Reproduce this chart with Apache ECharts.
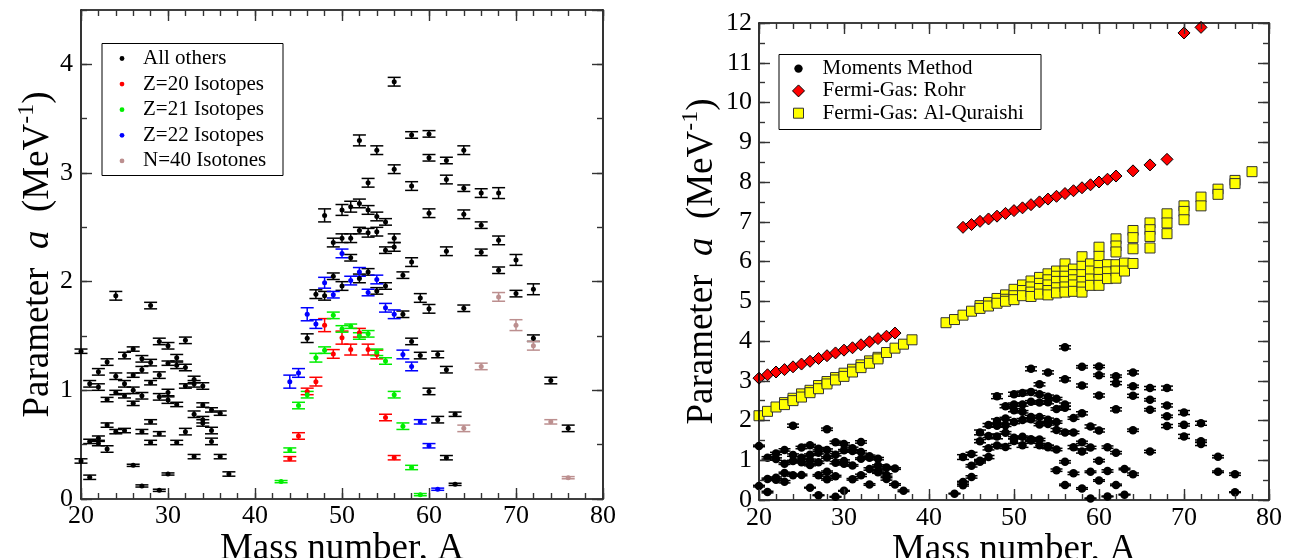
<!DOCTYPE html>
<html>
<head>
<meta charset="utf-8">
<script src="https://cdn.jsdelivr.net/npm/echarts@6/dist/echarts.min.js"></script>
<style>
  html, body { margin: 0; padding: 0; background: #fff; }
  #chart { width: 1291px; height: 558px; }
</style>
</head>
<body>
<div id="chart"></div>
<script>
// ---- level-density parameter a (MeV^-1) versus mass number A ----
// Each point: [A, a, error]

const allOthers = [
  [20,1.36,0.02],[20,0.35,0.02],
  [21,1.06,0.03],[21,0.53,0.02],[21,0.20,0.02],
  [22,1.17,0.03],[22,1.03,0.03],[22,0.56,0.02],[22,0.51,0.02],
  [23,1.26,0.03],[23,0.915,0.02],[23,0.68,0.02],[23,0.46,0.03],
  [24,1.87,0.04],[24,1.13,0.03],[24,0.98,0.02],[24,0.62,0.02],
  [25,1.32,0.03],[25,1.06,0.03],[25,0.95,0.02],[25,0.63,0.02],
  [26,1.38,0.02],[26,1.14,0.02],[26,1.00,0.03],[26,0.88,0.02],[26,0.31,0.01],
  [27,1.29,0.03],[27,1.19,0.03],[27,0.95,0.03],[27,0.62,0.02],[27,0.12,0.01],
  [28,1.78,0.03],[28,1.255,0.03],[28,1.07,0.02],[28,0.71,0.02],[28,0.52,0.02],
  [29,1.45,0.03],[29,1.14,0.03],[29,0.94,0.03],[29,0.60,0.02],[29,0.08,0.01],
  [30,1.41,0.03],[30,1.25,0.02],[30,0.98,0.03],[30,0.91,0.03],[30,0.23,0.01],
  [31,1.30,0.03],[31,1.23,0.03],[31,0.87,0.02],[31,0.52,0.02],
  [32,1.46,0.03],[32,1.21,0.03],[32,1.04,0.02],[32,0.62,0.03],
  [33,1.10,0.03],[33,1.06,0.03],[33,0.78,0.03],[33,0.39,0.02],
  [34,1.04,0.03],[34,0.865,0.02],[34,0.73,0.03],[34,0.70,0.03],
  [35,0.82,0.02],[35,0.63,0.03],[35,0.53,0.03],
  [36,0.79,0.02],[36,0.39,0.02],
  [37,0.23,0.02],
  [46,1.48,0.04],
  [47,1.885,0.04],
  [48,2.61,0.06],[48,1.87,0.04],
  [49,2.36,0.04],[49,2.05,0.03],
  [50,2.66,0.05],[50,2.40,0.04],[50,1.96,0.04],
  [51,2.69,0.05],[51,2.40,0.04],[51,2.22,0.03],
  [52,3.30,0.05],[52,2.72,0.04],[52,2.47,0.03],[52,2.03,0.04],
  [53,2.91,0.04],[53,2.66,0.04],[53,2.45,0.04],[53,2.09,0.03],
  [54,3.21,0.04],[54,2.60,0.04],[54,2.46,0.04],[54,1.915,0.03],
  [55,2.55,0.03],[55,2.29,0.03],[55,1.96,0.03],
  [56,3.84,0.04],[56,3.035,0.04],[56,2.40,0.04],[56,2.32,0.04],
  [57,2.06,0.03],[57,1.70,0.03],
  [58,3.35,0.03],[58,2.88,0.04],[58,2.18,0.04],[58,1.45,0.03],
  [59,1.85,0.04],[59,1.32,0.03],
  [60,3.36,0.03],[60,3.14,0.03],[60,2.63,0.04],[60,1.75,0.04],[60,0.99,0.03],
  [61,1.33,0.03],[61,0.73,0.03],
  [62,3.115,0.03],[62,2.94,0.04],[62,2.28,0.04],[62,1.19,0.03],[62,0.38,0.02],
  [63,0.78,0.02],[63,0.135,0.01],
  [64,3.21,0.04],[64,2.86,0.03],[64,2.62,0.04],[64,1.755,0.03],
  [66,2.815,0.04],[66,2.52,0.03],[66,2.27,0.03],
  [68,2.815,0.05],[68,2.38,0.04],[68,2.105,0.03],
  [70,2.20,0.05],[70,1.89,0.03],
  [72,1.93,0.05],[72,1.48,0.03],
  [74,1.09,0.03],
  [76,0.65,0.03]
];

const z20Isotopes = [
  [44,0.37,0.02],[45,0.58,0.03],[46,0.99,0.03],[47,1.08,0.04],[48,1.60,0.06],
  [49,1.335,0.04],[50,1.485,0.06],[51,1.375,0.05],[52,1.53,0.04],[53,1.375,0.05],
  [54,1.33,0.04],[55,0.75,0.03],[56,0.38,0.02]
];

const z21Isotopes = [
  [43,0.16,0.01],[44,0.45,0.02],[45,0.86,0.03],[46,0.96,0.03],[47,1.30,0.04],
  [48,1.37,0.03],[49,1.69,0.03],[50,1.565,0.03],[51,1.59,0.02],[52,1.50,0.03],
  [53,1.52,0.03],[54,1.35,0.03],[55,1.27,0.03],[56,0.96,0.03],[57,0.67,0.03],
  [58,0.29,0.02],[59,0.04,0.01]
];

const z22Isotopes = [
  [44,1.08,0.06],[45,1.16,0.04],[46,1.70,0.06],[47,1.61,0.04],[48,1.99,0.05],
  [49,1.88,0.03],[50,2.26,0.04],[51,2.01,0.04],[52,2.09,0.04],[53,1.90,0.03],
  [54,2.02,0.04],[55,1.76,0.04],[56,1.70,0.04],[57,1.33,0.04],[58,1.22,0.04],
  [59,0.71,0.02],[60,0.49,0.02],[61,0.09,0.01]
];

const n40Isotones = [
  [64,0.65,0.03],[66,1.22,0.03],[68,1.86,0.04],[70,1.60,0.05],
  [72,1.41,0.04],[74,0.71,0.02],[76,0.196,0.01]
];

// Fermi-gas estimates: [A, a]
const fermiRohr = [
  [20,3.065],[21,3.15],[22,3.22],[23,3.28],[24,3.35],[25,3.42],[26,3.49],[27,3.56],
  [28,3.63],[29,3.70],[30,3.77],[31,3.83],[32,3.905],[33,3.98],[34,4.06],[35,4.12],[36,4.20],
  [44,6.86],[45,6.93],[46,7.01],[47,7.07],[48,7.14],[49,7.21],[50,7.28],[51,7.35],
  [52,7.43],[53,7.50],[54,7.57],[55,7.64],[56,7.71],[57,7.78],[58,7.855],[59,7.93],
  [60,8.00],[61,8.07],[62,8.15],[64,8.28],[66,8.43],[68,8.57],[70,11.75],[72,11.89]
];

const fermiAlQuraishi = [
  [20,2.12],[21,2.23],[22,2.34],
  [23,2.45],[23,2.40],[24,2.56],[24,2.50],[25,2.67],[25,2.59],[26,2.76],[26,2.70],
  [27,2.88],[27,2.80],[28,2.98],[28,2.92],[29,3.08],[29,3.02],[30,3.19],[30,3.11],
  [31,3.29],[31,3.22],[32,3.40],[32,3.33],[33,3.50],[33,3.44],[34,3.59],[34,3.55],
  [35,3.71],[36,3.82],[37,3.92],[38,4.03],
  [42,4.46],[43,4.54],[44,4.65],[45,4.75],
  [46,4.89],[46,4.82],[47,4.97],[47,4.88],[48,5.07],[48,4.95],
  [49,5.16],[49,5.05],[49,5.00],
  [50,5.30],[50,5.14],[50,5.04],
  [51,5.41],[51,5.27],[51,5.14],
  [52,5.51],[52,5.36],[52,5.23],[52,5.12],
  [53,5.60],[53,5.45],[53,5.32],[53,5.18],
  [54,5.69],[54,5.54],[54,5.41],[54,5.27],[54,5.16],
  [55,5.76],[55,5.63],[55,5.50],[55,5.34],[55,5.21],
  [56,5.94],[56,5.76],[56,5.63],[56,5.50],[56,5.36],[56,5.23],
  [57,5.81],[57,5.67],[57,5.54],[57,5.41],[57,5.25],
  [58,6.12],[58,5.88],[58,5.67],[58,5.50],[58,5.36],[58,5.23],
  [59,5.94],[59,5.76],[59,5.56],[59,5.40],
  [60,6.36],[60,6.13],[60,5.90],[60,5.72],[60,5.55],[60,5.40],
  [61,5.92],[61,5.74],[61,5.57],
  [62,6.57],[62,6.39],[62,6.24],[62,5.92],[62,5.76],[62,5.58],
  [63,5.96],[63,5.76],
  [64,6.78],[64,6.60],[64,6.32],[64,5.95],
  [66,6.97],[66,6.80],[66,6.63],[66,6.34],
  [68,7.20],[68,6.97],[68,6.70],
  [70,7.40],[70,7.26],[70,7.05],
  [72,7.62],[72,7.40],
  [74,7.82],[74,7.69],
  [76,8.04],[76,7.96],
  [78,8.26]
];

// Moments-method values on the right panel: every measured point together
const momentsMethod = [].concat(allOthers, z20Isotopes, z21Isotopes, z22Isotopes, n40Isotones);

const leftLegendNames = ['All others', 'Z=20 Isotopes', 'Z=21 Isotopes', 'Z=22 Isotopes', 'N=40 Isotones'];
const rightLegendNames = ['Moments Method', 'Fermi-Gas: Rohr', 'Fermi-Gas: Al-Quraishi'];

// ---- styling ----
const SERIF = "'Liberation Serif', 'Times New Roman', serif";
const colors = {
  black: '#000000', red: '#ff0000', green: '#00ee00', blue: '#0000ff', rosy: '#bc8f8f',
  yellow: '#ffff00'
};

const yTitle = {
  name: 'Parameter  {i|a}  (MeV{s|-1})',
  nameLocation: 'middle',
  nameRotate: 90,
  nameMoveOverlap: false,
  nameTextStyle: {
    fontFamily: SERIF, fontSize: 37, color: '#000',
    rich: {
      i: { fontFamily: SERIF, fontSize: 37, fontStyle: 'italic', color: '#000' },
      s: { fontFamily: SERIF, fontSize: 24, color: '#000', padding: [0, 0, 22, 0] }
    }
  }
};
const xTitle = {
  name: 'Mass number, A',
  nameLocation: 'middle',
  nameMoveOverlap: false,
  nameTextStyle: { fontFamily: SERIF, fontSize: 37, color: '#000' }
};

// Framed axes: a labelled major axis plus a minor-tick axis on each side
function framedAxes(kind, grid, min, max, major, minor, label, title) {
  const sides = kind === 'x' ? ['bottom', 'top'] : ['left', 'right'];
  const out = [];
  sides.forEach(function (pos, si) {
    [major, minor].forEach(function (step, mi) {
      const main = si === 0 && mi === 0;
      const ax = {
        type: 'value', gridIndex: grid, position: pos,
        min: min, max: max, interval: step,
        axisLine: { show: mi === 0, onZero: false, lineStyle: { color: '#000', width: 1.6 } },
        axisTick: { show: true, inside: true, length: mi === 0 ? 11 : 6,
                    lineStyle: { color: '#333', width: 1.4 } },
        axisLabel: Object.assign({ show: main, fontFamily: SERIF, fontSize: 26, color: '#000',
                                   showMaxLabel: kind === 'y' && grid === 0 ? false : true }, label),
        splitLine: { show: false },
        minorTick: { show: false },
        z: 5
      };
      if (main && title) Object.assign(ax, title);
      out.push(ax);
    });
  });
  return out;
}

function errorBars(data, color, capHalf, lw, axisIdx) {
  return {
    type: 'custom', xAxisIndex: axisIdx, yAxisIndex: axisIdx, data: data,
    encode: { x: 0, y: 1 }, silent: true,
    renderItem: function (params, api) {
      const A = api.value(0), v = api.value(1), e = api.value(2);
      const hi = api.coord([A, v + e]);
      const lo = api.coord([A, v - e]);
      const st = { stroke: color, lineWidth: lw };
      return {
        type: 'group',
        children: [
          { type: 'line', shape: { x1: hi[0], y1: hi[1], x2: lo[0], y2: lo[1] }, style: st },
          { type: 'line', shape: { x1: hi[0] - capHalf, y1: hi[1], x2: hi[0] + capHalf, y2: hi[1] }, style: st },
          { type: 'line', shape: { x1: lo[0] - capHalf, y1: lo[1], x2: lo[0] + capHalf, y2: lo[1] }, style: st }
        ]
      };
    }
  };
}

function dots(data, color, size, axisIdx, extra) {
  return Object.assign({
    type: 'scatter', xAxisIndex: axisIdx, yAxisIndex: axisIdx, data: data,
    encode: { x: 0, y: 1 }, symbol: 'circle', symbolSize: size,
    itemStyle: { color: color, opacity: 1 }, silent: true
  }, extra || {});
}

const leftGroups = [
  [allOthers, colors.black],
  [z20Isotopes, colors.red],
  [z21Isotopes, colors.green],
  [z22Isotopes, colors.blue],
  [n40Isotones, colors.rosy]
];

const series = [];
leftGroups.forEach(function (g) {
  series.push(errorBars(g[0], g[1], 6.5, 1.5, 0));
  series.push(dots(g[0], g[1], 5, 0));
});
series.push(errorBars(momentsMethod, colors.black, 6, 1.5, 4));
series.push(dots(momentsMethod, colors.black, 8.5, 4));
series.push(dots(fermiAlQuraishi, colors.yellow, 10, 4, {
  symbol: 'rect', itemStyle: { color: colors.yellow, borderColor: '#333', borderWidth: 1, opacity: 1 }
}));
series.push(dots(fermiRohr, colors.red, 12, 4, {
  symbol: 'diamond', itemStyle: { color: colors.red, borderColor: '#000', borderWidth: 1, opacity: 1 }
}));

// ---- legends (boxed key) ----
function legendText(x, y, text) {
  return { type: 'text', x: x, y: y, z: 20,
           style: { text: text, fontFamily: SERIF, fontSize: 21, fill: '#000', verticalAlign: 'middle', align: 'left' } };
}
const leftDotColors = [colors.black, colors.red, colors.green, colors.blue, colors.rosy];
const graphics = [
  { type: 'rect', z: 19, shape: { x: 102, y: 43.5, width: 181, height: 132 },
    style: { fill: '#fff', stroke: '#000', lineWidth: 1 } }
];
leftLegendNames.forEach(function (name, i) {
  const cy = 58.5 + i * 25.6;
  graphics.push({ type: 'circle', z: 20, shape: { cx: 122, cy: cy, r: 2.4 }, style: { fill: leftDotColors[i] } });
  graphics.push(legendText(143, cy, name));
});
graphics.push({ type: 'rect', z: 19, shape: { x: 779, y: 54.5, width: 262, height: 75 },
                style: { fill: '#fff', stroke: '#000', lineWidth: 1 } });
const rcx = 798.5;
rightLegendNames.forEach(function (name, i) {
  const cy = 68.6 + i * 22.3;
  if (i === 0) {
    graphics.push({ type: 'circle', z: 20, shape: { cx: rcx, cy: cy, r: 4.2 }, style: { fill: '#000' } });
  } else if (i === 1) {
    graphics.push({ type: 'polygon', z: 20,
      shape: { points: [[rcx, cy - 6], [rcx + 6, cy], [rcx, cy + 6], [rcx - 6, cy]] },
      style: { fill: colors.red, stroke: '#000', lineWidth: 1 } });
  } else {
    graphics.push({ type: 'rect', z: 20, shape: { x: rcx - 5, y: cy - 5, width: 10, height: 10 },
      style: { fill: colors.yellow, stroke: '#333', lineWidth: 1 } });
  }
  graphics.push(legendText(822.5, cy, name));
});

const option = {
  animation: false,
  backgroundColor: '#fff',
  grid: [
    { left: 81, top: 10, width: 522, height: 489, outerBoundsMode: 'none' },
    { left: 759, top: 23, width: 510, height: 477, outerBoundsMode: 'none' }
  ],
  xAxis: [].concat(
    framedAxes('x', 0, 20, 80, 10, 2, { margin: 4 }, Object.assign({ nameGap: 32 }, xTitle)),
    framedAxes('x', 1, 20, 80, 10, 2, { margin: 5 }, Object.assign({ nameGap: 32 }, xTitle))
  ),
  yAxis: [].concat(
    framedAxes('y', 0, 0, 4.5, 1, 0.5, { margin: 8 }, Object.assign({ nameGap: 20 }, yTitle)),
    framedAxes('y', 1, 0, 12, 1, 0.5, { margin: 7 }, Object.assign({ nameGap: 34 }, yTitle))
  ),
  series: series,
  graphic: graphics
};

const chart = echarts.init(document.getElementById('chart'), null, { renderer: 'canvas' });
chart.setOption(option);
</script>
</body>
</html>
